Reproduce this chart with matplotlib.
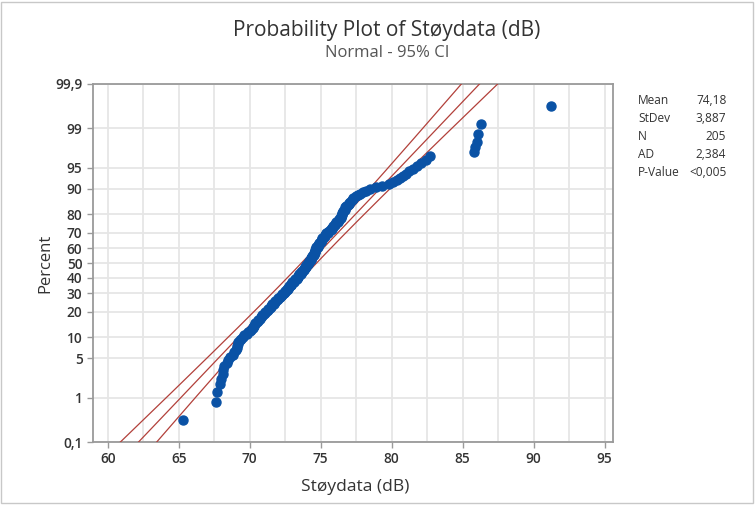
import numpy as np
import matplotlib
matplotlib.use("Agg")
import matplotlib.pyplot as plt
from matplotlib.patches import Rectangle
from matplotlib.ticker import FixedLocator, MultipleLocator
from statistics import NormalDist

plt.rcParams['font.family'] = ['Open Sans', 'DejaVu Sans']

# sorted noise readings (dB)
stoy = [
    65.3, 67.6, 67.7, 67.9, 68.0, 68.1, 68.1, 68.2, 68.4, 68.5,
    68.6, 68.8, 68.9, 69.0, 69.1, 69.1, 69.2, 69.2, 69.3, 69.4,
    69.5, 69.6, 69.8, 69.9, 70.0, 70.1, 70.2, 70.2, 70.3, 70.4,
    70.4, 70.5, 70.6, 70.6, 70.7, 70.8, 70.9, 70.9, 71.0, 71.1,
    71.1, 71.2, 71.3, 71.3, 71.4, 71.5, 71.5, 71.6, 71.6, 71.7,
    71.7, 71.8, 71.8, 71.9, 72.0, 72.0, 72.1, 72.1, 72.2, 72.3,
    72.3, 72.4, 72.4, 72.5, 72.5, 72.6, 72.6, 72.7, 72.7, 72.8,
    72.8, 72.9, 72.9, 72.9, 73.0, 73.0, 73.1, 73.1, 73.2, 73.2,
    73.3, 73.3, 73.4, 73.4, 73.4, 73.5, 73.5, 73.6, 73.6, 73.6,
    73.7, 73.7, 73.8, 73.8, 73.8, 73.9, 73.9, 74.0, 74.0, 74.0,
    74.1, 74.1, 74.1, 74.2, 74.2, 74.2, 74.3, 74.3, 74.3, 74.3,
    74.4, 74.4, 74.4, 74.5, 74.5, 74.5, 74.5, 74.6, 74.6, 74.6,
    74.6, 74.7, 74.7, 74.7, 74.7, 74.8, 74.8, 74.8, 74.9, 74.9,
    74.9, 75.0, 75.0, 75.0, 75.1, 75.1, 75.1, 75.2, 75.2, 75.3,
    75.3, 75.4, 75.4, 75.5, 75.5, 75.6, 75.7, 75.7, 75.8, 75.8,
    75.9, 75.9, 76.0, 76.0, 76.1, 76.1, 76.2, 76.2, 76.3, 76.3,
    76.4, 76.4, 76.4, 76.5, 76.5, 76.5, 76.6, 76.6, 76.7, 76.7,
    76.7, 76.8, 76.9, 77.0, 77.0, 77.1, 77.2, 77.3, 77.3, 77.5,
    77.6, 77.8, 78.0, 78.2, 78.5, 78.9, 79.3, 79.8, 80.1, 80.4,
    80.6, 80.8, 81.0, 81.2, 81.5, 81.8, 82.1, 82.4, 82.7, 85.8,
    85.9, 86.0, 86.1, 86.3, 91.2,
]
mean = 74.18
stdev = 3.887
n = 205
stat_names = ['Mean', 'StDev', 'N', 'AD', 'P-Value']
stat_values = ['74,18', '3,887', '205', '2,384', '<0,005']
pct_ticks = [0.1, 1, 5, 10, 20, 30, 40, 50, 60, 70, 80, 90, 95, 99, 99.9]
x_ticks = [60, 65, 70, 75, 80, 85, 90, 95]

nd = NormalDist()
ppf = np.vectorize(lambda p: nd.inv_cdf(min(max(p / 100.0, 1e-9), 1 - 1e-9)),
                   otypes=[float])
cdf = np.vectorize(lambda z: nd.cdf(z) * 100.0, otypes=[float])

# median ranks for the plotting positions
rank = np.arange(1, n + 1)
pct = (rank - 0.3) / (n + 0.4) * 100

# fitted line and 95% band
z = np.linspace(-3.2, 3.2, 200)
xfit = mean + stdev * z
half = 1.96 * stdev * np.sqrt(1.0 / n + z ** 2 / (2.0 * n))
pfit = cdf(z)

fig = plt.figure(figsize=(7.55, 5.09), dpi=100)
ax = fig.add_axes([0.123, 0.1316, 0.689, 0.7034])
ax.set_yscale('function', functions=(ppf, cdf))

red = '#b2403a'
ax.plot(xfit, pfit, color=red, lw=0.9, zorder=3)
ax.plot(xfit - half, pfit, color=red, lw=0.9, zorder=3)
ax.plot(xfit + half, pfit, color=red, lw=0.9, zorder=3)
ax.plot(stoy, pct, 'o', color='#0a52a5', ms=6.5, mec='#0a52a5', zorder=4)

ax.set_xlim(58.95, 95.6)
ax.set_ylim(0.1, 99.9)
ax.yaxis.set_major_locator(FixedLocator(pct_ticks))
ax.set_yticklabels([f'{p:g}'.replace('.', ',') for p in pct_ticks])
ax.yaxis.set_minor_locator(FixedLocator([]))
ax.xaxis.set_major_locator(FixedLocator(x_ticks))
ax.xaxis.set_minor_locator(MultipleLocator(2.5))

ax.grid(True, which='both', color='#e6e6e6', lw=1.3, zorder=0)
ax.set_axisbelow(True)
for s in ax.spines.values():
    s.set_color('#9a9a9a')
    s.set_linewidth(1.3)
ax.tick_params(axis='both', which='major', length=4, width=1, color='#9a9a9a',
               labelsize=9.8, labelcolor='#333333')
ax.tick_params(axis='x', which='minor', length=0)
for lab in ax.get_xticklabels() + ax.get_yticklabels():
    lab.set_fontweight('semibold')

fig.text(0.5126, 0.941, 'Probability Plot of Støydata (dB)', ha='center', va='center',
         fontsize=15, color='#333333')
fig.text(0.5126, 0.895, 'Normal - 95% CI', ha='center', va='center',
         fontsize=12, color='#555555')
fig.text(0.06, 0.483, 'Percent', rotation=90, ha='center', va='center',
         fontsize=12, color='#333333')
fig.text(0.47, 0.043, 'Støydata (dB)', ha='center', va='center',
         fontsize=12.5, color='#333333')

for i, (name, val) in enumerate(zip(stat_names, stat_values)):
    y = 0.8035 - i * 0.0354
    fig.text(0.845, y, name, ha='left', va='center', fontsize=8.6, color='#333333')
    fig.text(0.962, y, val, ha='right', va='center', fontsize=8.6, color='#333333')

fig.patches.append(Rectangle((0.001, 0.012), 0.996, 0.984, transform=fig.transFigure,
                             fill=False, edgecolor='#c8c8c8', lw=1))

fig.savefig('out.png', dpi=100)
